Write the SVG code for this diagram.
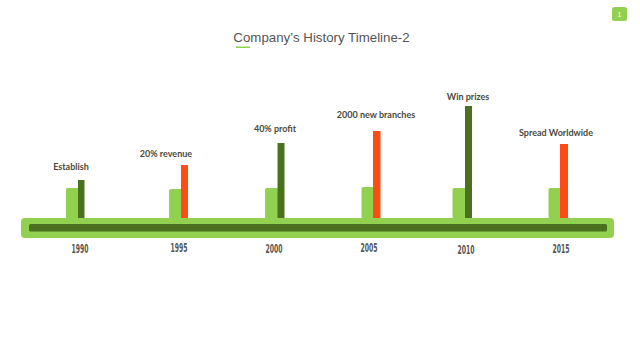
<svg xmlns="http://www.w3.org/2000/svg" width="640" height="360" viewBox="0 0 640 360">
<style>
.lg{fill:#92d050}
.dg{fill:#4a7020}
.or{fill:#ff4b14}
.lbl{font-family:Lato,"Open Sans",sans-serif;font-weight:700;font-size:9px;fill:#4a4a3c;text-anchor:middle}
.yr{font-family:"DejaVu Sans Condensed","DejaVu Sans",sans-serif;font-stretch:condensed;font-weight:700;font-size:13px;fill:#555;text-anchor:middle}
</style>
<rect width="640" height="360" fill="#fff"/>
<g id="title">
<text x="321.5" y="42" font-family="'Liberation Sans',Arial,sans-serif" font-size="13.3" fill="#555" text-anchor="middle">Company’s History Timeline-2</text>
<rect x="236" y="46.5" width="14" height="1.5" class="lg"/>
</g>
<g id="page">
<rect x="612" y="7" width="15" height="14" rx="2.5" class="lg"/>
<text x="619.5" y="17" font-family="'Liberation Sans',sans-serif" font-size="7" fill="#fff" text-anchor="middle">1</text>
</g>
<g id="axis">
<rect x="21" y="218" width="593" height="20" rx="4" class="lg"/>
<rect x="29" y="224" width="578" height="7.5" rx="1.5" class="dg"/>
</g>
<g id="m1990">
<rect x="66" y="188" width="14" height="31" rx="2" class="lg"/>
<rect x="78" y="180" width="6.5" height="38" class="dg"/>
<text x="71" y="170" class="lbl">Establish</text>
<text x="80" y="253" class="yr" textLength="17" lengthAdjust="spacingAndGlyphs">1990</text>
</g>
<g id="m1995">
<rect x="169" y="189" width="14" height="30" rx="2" class="lg"/>
<rect x="181" y="165" width="7" height="53" class="or"/>
<text x="166" y="157" class="lbl">20% revenue</text>
<text x="179" y="252" class="yr" textLength="17" lengthAdjust="spacingAndGlyphs">1995</text>
</g>
<g id="m2000">
<rect x="265" y="188" width="14" height="31" rx="2" class="lg"/>
<rect x="277.5" y="143" width="7" height="75" class="dg"/>
<text x="275" y="132" class="lbl">40% profit</text>
<text x="274" y="252.5" class="yr" textLength="17" lengthAdjust="spacingAndGlyphs">2000</text>
</g>
<g id="m2005">
<rect x="361.5" y="187" width="14" height="32" rx="2" class="lg"/>
<rect x="373" y="131" width="7.5" height="87" class="or"/>
<text x="376" y="118" class="lbl">2000 new branches</text>
<text x="369" y="252" class="yr" textLength="17" lengthAdjust="spacingAndGlyphs">2005</text>
</g>
<g id="m2010">
<rect x="452.5" y="188" width="14" height="31" rx="2" class="lg"/>
<rect x="465" y="106" width="7" height="112" class="dg"/>
<text x="468" y="100" class="lbl">Win prizes</text>
<text x="466" y="254" class="yr" textLength="17" lengthAdjust="spacingAndGlyphs">2010</text>
</g>
<g id="m2015">
<rect x="548.5" y="188" width="14" height="31" rx="2" class="lg"/>
<rect x="560" y="144" width="8" height="74" class="or"/>
<text x="556" y="136" class="lbl">Spread Worldwide</text>
<text x="561" y="252.5" class="yr" textLength="17" lengthAdjust="spacingAndGlyphs">2015</text>
</g>
</svg>
